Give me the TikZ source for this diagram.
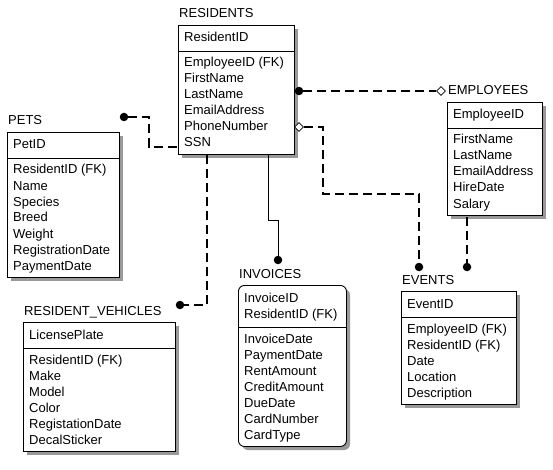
\documentclass[tikz,border=0pt]{standalone}
\usepackage{fontspec}
\setmainfont{Liberation Sans}
\usetikzlibrary{shapes.geometric}
\newcommand\entfont{\fontsize{13}{16}\selectfont}
\tikzset{
  entbox/.style={draw=black, line width=0.9pt, fill=white, inner sep=0pt, anchor=north west},
  entextra/.style={},
  shadowbox/.style={fill=black!40},
  lbl/.style={anchor=base west, inner sep=0pt, font=\entfont, text=black},
  seprule/.style={line width=0.9pt},
  rel/.style={line width=2.4pt, dash pattern=on 9pt off 5pt},
  solidrel/.style={line width=1pt},
  fkdot/.style={circle, fill=black, inner sep=0pt, minimum size=8.5pt},
  nulldia/.style={diamond, draw=black, fill=white, line width=0.8pt, inner sep=0pt, minimum width=9pt, minimum height=9pt},
}
% #1 name, #2 title, #3 x, #4 top, #5 width, #6 nkeys, #7 nattrs, #8 keys, #9 attrs
\newcommand\entity[9]{%
  \pgfmathsetmacro\enth{17+16*(#6+#7)}%
  \fill[shadowbox, entextra] (#3+4,#4+4) rectangle ++(#5,\enth);
  \node[entbox, entextra, minimum width=#5pt, minimum height=\enth pt] (#1) at (#3,#4) {};
  \draw[seprule] (#3,#4+10+16*#6) -- ++(#5,0);
  \node[lbl] (#1-title) at (#3+1,#4-7) {#2};
  \foreach \t [count=\i] in {#8} \node[lbl] (#1-k\i) at (#3+6,#4+1+16*\i) {\t};
  \foreach \t [count=\i] in {#9} \node[lbl] (#1-a\i) at (#3+6,#4+10+16*#6+16*\i) {\t};
}
\begin{document}
\begin{tikzpicture}[x=1pt, y=-1pt]
\fill[white] (0,0) rectangle (553,470);
\useasboundingbox (0,0) rectangle (553,470);

\entity{res}{RESIDENTS}{178}{25}{116}{1}{6}{ResidentID}{EmployeeID (FK),FirstName,LastName,EmailAddress,PhoneNumber,SSN}
\entity{pets}{PETS}{7}{132}{112}{1}{7}{PetID}{ResidentID (FK),Name,Species,Breed,Weight,RegistrationDate,PaymentDate}
\entity{emp}{EMPLOYEES}{447}{102}{95}{1}{5}{EmployeeID}{FirstName,LastName,EmailAddress,HireDate,Salary}
\entity{veh}{RESIDENT\_VEHICLES}{23}{322}{152}{1}{6}{LicensePlate}{ResidentID (FK),Make,Model,Color,RegistationDate,DecalSticker}
\entity{evt}{EVENTS}{401}{291}{115}{1}{5}{EventID}{EmployeeID (FK),ResidentID (FK),Date,Location,Description}
\tikzset{entextra/.style={rounded corners=6pt}}
\entity{inv}{INVOICES}{238}{285}{108}{2}{7}{InvoiceID,ResidentID (FK)}{InvoiceDate,PaymentDate,RentAmount,CreditAmount,DueDate,CardNumber,CardType}
\tikzset{entextra/.style={}}

% RESIDENTS -> EMPLOYEES
\node[fkdot] (d1) at (299,91) {};
\node[nulldia] (m1) at (441,91) {};
\draw[rel] (d1) -- (m1);

% RESIDENTS -> EVENTS
\node[nulldia] (m2) at (299,127) {};
\node[fkdot] (d2) at (419,267) {};
\coordinate (b2) at (323,194);
\draw[rel] (m2) -| (b2) -| (d2);

% EMPLOYEES -> EVENTS
\coordinate (s3) at (467,217);
\node[fkdot] (d3) at (467,267) {};
\draw[rel] (s3) -- (d3);

% RESIDENTS -> PETS
\node[fkdot] (d4) at (124,117) {};
\coordinate (b4) at (149,147);
\coordinate (r4) at (res.west |- b4);
\draw[rel] (d4) -| (b4) -- (r4);

% RESIDENTS -> RESIDENT_VEHICLES
\coordinate (s5) at (207,155);
\node[fkdot] (d5) at (180,305) {};
\draw[rel] (s5) |- (d5);

% RESIDENTS -> INVOICES
\coordinate (s6) at (268,155);
\coordinate (b6) at (278,220);
\node[fkdot] (d6) at (278,260) {};
\draw[solidrel] (s6) |- (b6) -- (d6);
\end{tikzpicture}
\end{document}
